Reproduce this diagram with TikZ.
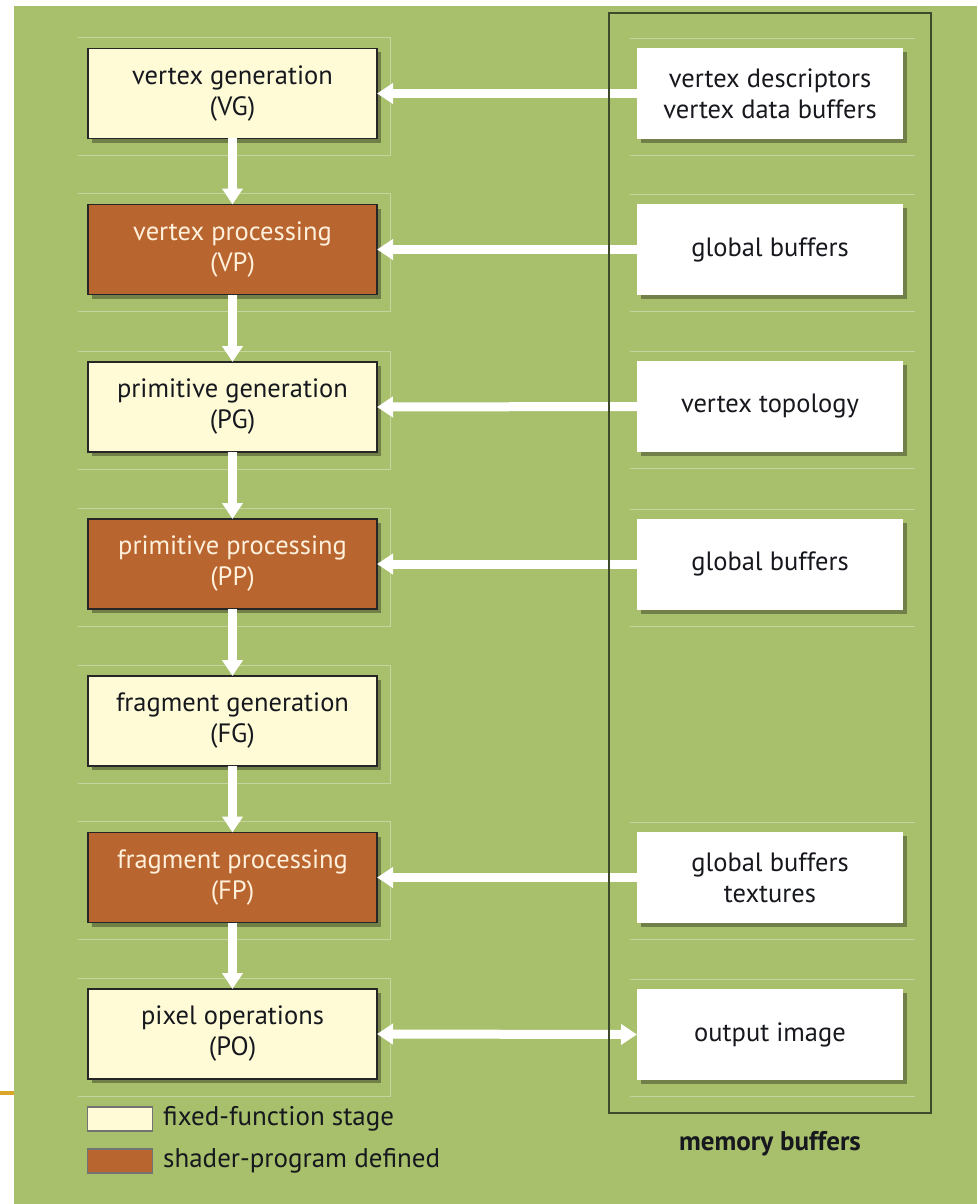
\documentclass[tikz,border=0pt]{standalone}
\usepackage{fontspec}
\setmainfont{PT Sans}
\usetikzlibrary{arrows.meta,shadows}
\definecolor{bg}{HTML}{A8C06C}
\definecolor{cream}{HTML}{FEFBD6}
\definecolor{rust}{HTML}{B9652F}
\definecolor{frameline}{HTML}{3F4B2C}
\definecolor{ink}{HTML}{16181E}
\definecolor{paleink}{HTML}{FFF0DC}
\definecolor{gold}{HTML}{D9A62A}
\begin{document}
\begin{tikzpicture}[x=1pt,y=-1pt,
  boxtext/.style={font=\fontsize{26.5}{31}\selectfont, align=center},
  softshadow/.style={drop shadow={shadow xshift=4pt, shadow yshift=-4pt, fill=black!55!bg, opacity=0.6}},
  stage/.style={boxtext, minimum width=289pt, minimum height=90pt, inner sep=0pt, outer sep=0pt,
                draw=black!85, line width=1.5pt, softshadow},
  fixedstage/.style={stage, fill=cream, text=ink},
  shaderstage/.style={stage, fill=rust, text=paleink},
  buffer/.style={boxtext, minimum width=266pt, minimum height=91pt, inner sep=0pt, outer sep=0pt,
                 fill=white, text=ink, softshadow},
  flow/.style={draw=white, line width=9pt, -{Triangle[width=20pt,length=16pt]}},
  flowboth/.style={draw=white, line width=9pt, {Triangle[width=20pt,length=16pt]}-{Triangle[width=20pt,length=16pt]}},
  guide/.style={draw=white, opacity=0.35, line width=0.8pt},
  legendbox/.style={minimum width=65pt, minimum height=24pt, inner sep=0pt, draw=black!55, line width=1.5pt},
  legendtext/.style={font=\fontsize{27}{31}\selectfont, text=ink, anchor=west, inner sep=0pt},
]
% canvas
\fill[white] (0,0) rectangle (977,1204);
\fill[bg] (14,6) rectangle (977,1204);
\path[use as bounding box] (0,0) rectangle (977,1204);
\draw[gold, line width=3.5pt] (0,1093) -- (14,1093);

% faint guide frames around the stages
\foreach \cy in {93.5,249.5,407,564,721,877.5,1034}{
  \draw[guide] (78,\cy-56) -- (390,\cy-56) -- (390,\cy+62) -- (78,\cy+62);
}
\foreach \cy in {93.5,249.5,406.5,564,877.5,1034.5}{
  \draw[guide] (630,\cy-55) -- (915,\cy-55);
  \draw[guide] (630,\cy+62) -- (915,\cy+62);
}

% pipeline stages
\node[fixedstage]  (vg) at (232.5,93.5)  {vertex generation\\(VG)};
\node[shaderstage] (vp) at (232.5,249.5) {vertex processing\\(VP)};
\node[fixedstage]  (pg) at (232.5,407)   {primitive generation\\(PG)};
\node[shaderstage] (pp) at (232.5,564)   {primitive processing\\(PP)};
\node[fixedstage]  (fg) at (232.5,721)   {fragment generation\\(FG)};
\node[shaderstage] (fp) at (232.5,877.5) {fragment processing\\(FP)};
\node[fixedstage]  (po) at (232.5,1034)  {pixel operations\\(PO)};

% memory buffers
\node[buffer] (m1) at (770,93.5)   {vertex descriptors\\vertex data buffers};
\node[buffer] (m2) at (770,249.5)  {global buffers};
\node[buffer] (m3) at (770,406.5)  {vertex topology};
\node[buffer] (m4) at (770,564)    {global buffers};
\node[buffer] (m5) at (770,877.5)  {global buffers\\textures};
\node[buffer] (m6) at (770,1034.5) {output image};

% data flow down the pipeline
\draw[flow] (vg.south) -- (vp.north);
\draw[flow] (vp.south) -- (pg.north);
\draw[flow] (pg.south) -- (pp.north);
\draw[flow] (pp.south) -- (fg.north);
\draw[flow] (fg.south) -- (fp.north);
\draw[flow] (fp.south) -- (po.north);

% buffer reads and writes
\draw[flow] (m1.west) -- (vg.east);
\draw[flow] (m2.west) -- (vp.east);
\draw[flow] (m3.west) -- (pg.east);
\draw[flow] (m4.west) -- (pp.east);
\draw[flow] (m5.west) -- (fp.east);
\draw[flowboth] (po.east) -- (m6.west);

% memory region frame and caption
\node[draw=frameline, line width=2pt, minimum width=322pt, minimum height=1100pt, inner sep=0pt] (mem) at (770,563) {};
\node[font=\fontsize{27}{31}\selectfont\bfseries, text=ink] (memlabel) at (770,1144) {memory buffers};

% legend
\node[legendbox, fill=cream] (lfix) at (120,1119) {};
\node[legendbox, fill=rust]  (lsh)  at (120,1161) {};
\node[legendtext] (tfix) at (163,1119) {fixed-function stage};
\node[legendtext] (tsh)  at (163,1161) {shader-program defined};
\end{tikzpicture}
\end{document}
